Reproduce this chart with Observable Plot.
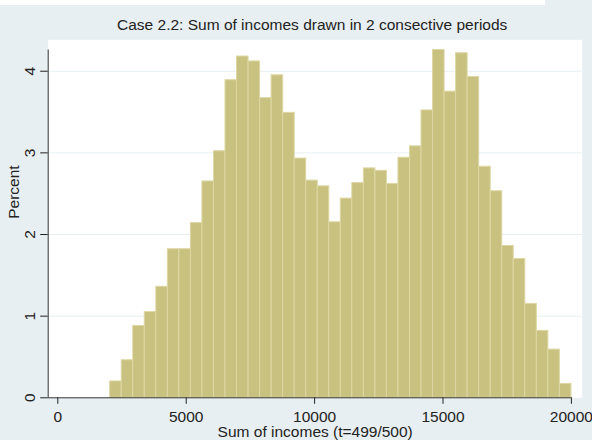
<!DOCTYPE html>
<html><head><meta charset="utf-8">
<script src="https://cdn.jsdelivr.net/npm/d3@7"></script>
<script src="https://cdn.jsdelivr.net/npm/@observablehq/plot@0.6"></script>
<style>
html,body{margin:0;padding:0;background:#e8eff2;}
#wrap{position:relative;width:592px;height:440px;overflow:hidden;}
#strip{position:absolute;left:0;top:0;width:545px;height:5px;background:#fff;}
</style></head><body><div id="wrap"><div id="strip"></div></div>
<script>
const titleText = "Case 2.2: Sum of incomes drawn in 2 consective periods";
const xLabel = "Sum of incomes (t=499/500)";
const yLabel = "Percent";
const binStart = 2040;
const binWidth = 449;
const percents = [0.20,0.46,0.88,1.05,1.36,1.82,1.82,2.14,2.65,3.02,
                  3.89,4.18,4.12,3.67,3.95,3.49,2.93,2.66,2.59,2.15,
                  2.44,2.63,2.81,2.78,2.62,2.94,3.08,3.52,4.26,3.75,
                  4.22,3.93,2.83,2.53,1.86,1.70,1.15,0.82,0.59,0.17];
const xTicks = [0, 5000, 10000, 15000, 20000];
const yTicks = [0, 1, 2, 3, 4];
const xDomain = [-374, 20420];
const yDomain = [0, 4.385];

const bg = "#e8eff2";
const bins = percents.map((p, i) => ({x1: binStart + i * binWidth, x2: binStart + (i + 1) * binWidth, pct: p}));

const chart = Plot.plot({
  width: 592, height: 440,
  marginLeft: 47.7, marginRight: 10.3, marginTop: 39.3, marginBottom: 42.7,
  style: {background: bg, fontFamily: "'Liberation Sans', Arial, sans-serif", fontSize: "15.5px", color: "#222"},
  x: {domain: xDomain},
  y: {domain: yDomain},
  marks: [
    Plot.frame({fill: "white", stroke: null}),
    Plot.ruleY(yTicks.slice(1), {stroke: bg, strokeWidth: 1}),
    Plot.rectY(bins, {x1: "x1", x2: "x2", y: "pct", fill: "#c9c17f", stroke: "#ddd7a4", strokeWidth: 1}),
    Plot.ruleX([xDomain[0]], {y1: 0, y2: d3.max(percents), stroke: "#333"}),
    Plot.ruleY([0], {x1: xDomain[0], x2: d3.max(xTicks), stroke: "#333"}),
    Plot.axisX({ticks: xTicks, tickSize: 6.5, tickPadding: 6.5, fontSize: 15.5, tickFormat: d => String(d), label: null}),
    Plot.axisY({ticks: yTicks, tickSize: 7.5, tickPadding: 6, tickRotate: -90, fontSize: 15.5, tickFormat: d => String(d), label: null}),
    Plot.text([xLabel], {frameAnchor: "bottom", dy: 34.4, lineAnchor: "middle"}),
    Plot.text([yLabel], {frameAnchor: "left", rotate: -90, dx: -34, lineAnchor: "middle"}),
    Plot.text([titleText], {frameAnchor: "top", dx: -3, dy: -14.8, lineAnchor: "middle", fontSize: 15.5})
  ]
});
document.getElementById("wrap").appendChild(chart);
chart.style.position = "absolute";
chart.style.left = "0";
chart.style.top = "0";
document.getElementById("wrap").appendChild(document.getElementById("strip"));
</script>
</body></html>
